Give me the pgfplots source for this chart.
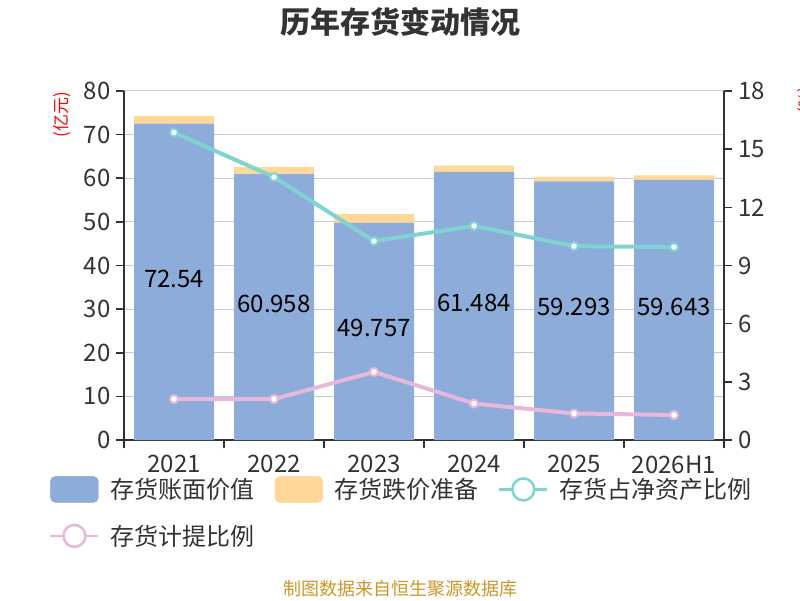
\documentclass[border=0pt]{standalone}
\usepackage{pgfplots}
\pgfplotsset{compat=1.18}
\usepackage{fontspec}
\setmainfont{Noto Sans CJK SC}
\definecolor{barblue}{RGB}{142,172,218}
\definecolor{barorange}{RGB}{255,216,153}
\definecolor{cyanline}{RGB}{128,211,211}
\definecolor{pinkline}{RGB}{232,184,218}
\definecolor{gridcol}{RGB}{200,200,200}
\definecolor{axiscol}{RGB}{51,51,51}
\definecolor{textcol}{RGB}{51,51,51}
\definecolor{srccol}{RGB}{204,150,40}
\pgfplotsset{
  base/.style={
    at={(124pt,160pt)}, anchor=south west, scale only axis,
    width=600pt, height=349pt,
    xmin=-0.5, xmax=5.5,
    /pgf/number format/assume math mode=true,
    tick label style={font=\fontsize{24}{24}\selectfont, text=textcol},
    axis line style={line width=1.5pt, draw=axiscol},
    tick align=outside, major tick length=8pt, minor tick length=8pt,
  }
}
\begin{document}
\begin{tikzpicture}
\useasboundingbox (0pt,0pt) rectangle (800pt,600pt);
% bars
\begin{axis}[base,
  ymin=0, ymax=80,
  ybar stacked, bar width=80pt,
  axis x line*=bottom, axis y line*=left,
  ytick={0,10,...,80},
  xtick={0,...,5}, xticklabels={2021,2022,2023,2024,2025,2026H1},
  minor xtick={-0.5,0.5,...,5.5},
  major x tick style={draw=none},
  minor x tick style={line width=1.5pt, draw=axiscol},
  y tick style={line width=1.5pt, draw=axiscol},
  yticklabel style={xshift=-2pt},
  ymajorgrids, major grid style={gridcol, line width=1pt},
  xticklabel style={yshift=-4pt},
]
\addplot[fill=barblue, draw=none] coordinates {(0,72.54) (1,60.958) (2,49.757) (3,61.484) (4,59.293) (5,59.643)};
\addplot[fill=barorange, draw=none] coordinates {(0,1.7) (1,1.6) (2,2.0) (3,1.4) (4,1.0) (5,1.0)};
\end{axis}
% bar value labels
\begin{axis}[base, ymin=0, ymax=80, hide axis]
\addplot[draw=none, mark=none, nodes near coords, point meta=explicit symbolic,
  every node near coord/.append style={anchor=center, font=\fontsize{24}{24}\selectfont, text=black}]
  table[meta=label] {
x y label
0 37.0 72.54
1 31.2 60.958
2 25.6 49.757
3 31.5 61.484
4 30.4 59.293
5 30.6 59.643
};
\end{axis}
% lines
\begin{axis}[base,
  ymin=0, ymax=18,
  axis x line=none, axis y line*=right,
  ytick={0,3,...,18},
  y tick style={line width=1.5pt, draw=axiscol},
  yticklabel style={xshift=3pt},
  legend columns=3,
  legend style={at={(rel axis cs:-0.125,-0.1032)}, anchor=north west,
    draw=none, fill=none, inner sep=0pt, row sep=21pt,
    nodes={inner xsep=6pt, inner ysep=0pt, font=\fontsize{24}{24}\selectfont, text=textcol},
    /tikz/every odd column/.append style={column sep=5pt},
    /tikz/every even column/.append style={column sep=14pt}},
]
\addlegendimage{legend image code/.code={\fill[barblue, rounded corners=5pt] (0pt,-13pt) rectangle (48pt,13pt);}}
\addlegendentry{存货账面价值}
\addlegendimage{legend image code/.code={\fill[barorange, rounded corners=5pt] (0pt,-13pt) rectangle (48pt,13pt);}}
\addlegendentry{存货跌价准备}
\addplot[cyanline, line width=4pt, mark=*, mark size=4pt,
  mark options={fill=white, draw=cyanline, line width=2pt},
  legend image code/.code={\draw[cyanline, line width=2.5pt] (0pt,0pt)--(48pt,0pt); \draw[cyanline, fill=white, line width=2.5pt] (24pt,0pt) circle (11pt);}]
  coordinates {(0,15.86) (1,13.56) (2,10.26) (3,11.04) (4,10.0) (5,9.95)};
\addlegendentry{存货占净资产比例}
\addplot[pinkline, line width=4pt, mark=*, mark size=4pt,
  mark options={fill=white, draw=pinkline, line width=2pt},
  legend image code/.code={\draw[pinkline, line width=2.5pt] (0pt,0pt)--(48pt,0pt); \draw[pinkline, fill=white, line width=2.5pt] (24pt,0pt) circle (11pt);}]
  coordinates {(0,2.11) (1,2.11) (2,3.51) (3,1.88) (4,1.37) (5,1.29)};
\addlegendentry{存货计提比例}
\end{axis}
% titles and labels
\node[font=\fontsize{30}{30}\selectfont\bfseries, text=textcol] at (400pt,578pt) {历年存货变动情况};
\node[font=\fontsize{17}{17}\selectfont, text=red, rotate=90] at (62pt,485pt) {(亿元)};
\node[font=\fontsize{17}{17}\selectfont, text=red, rotate=90] at (806pt,500pt) {(\%)};
\node[font=\fontsize{18}{18}\selectfont, text=srccol] at (400pt,11pt) {制图数据来自恒生聚源数据库};
\end{tikzpicture}
\end{document}
